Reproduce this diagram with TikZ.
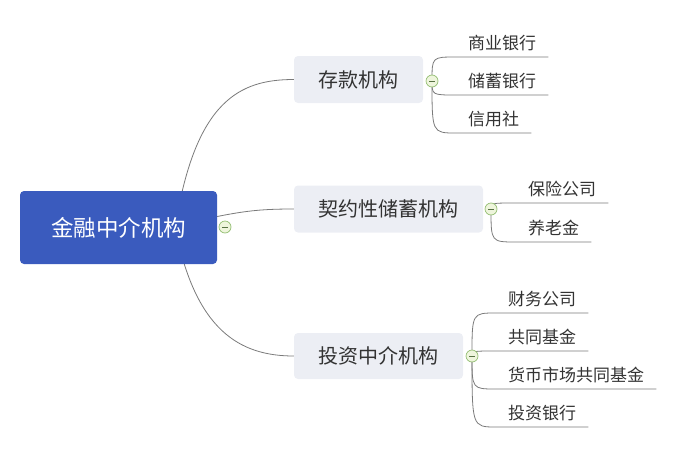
\documentclass[tikz,border=0pt]{standalone}
\usepackage{fontspec}
\setmainfont{Noto Sans CJK SC}
\pgfdeclarelayer{bg}
\pgfsetlayers{bg,main}
\definecolor{rootblue}{HTML}{3A5BBE}
\definecolor{boxgrey}{HTML}{ECEEF4}
\definecolor{linegrey}{HTML}{7A7A7A}
\definecolor{textgrey}{HTML}{333333}
\definecolor{toggfill}{HTML}{EEF5DC}
\definecolor{toggline}{HTML}{93BE72}
\begin{document}
\begin{tikzpicture}[x=1pt,y=-1pt,
    rootbox/.style={rectangle,rounded corners=4pt,fill=rootblue,text=white,
      minimum width=197pt,minimum height=73pt,font=\fontsize{22.5}{26}\selectfont},
    midbox/.style={rectangle,rounded corners=4pt,fill=boxgrey,text=textgrey,
      minimum height=47pt,font=\fontsize{20}{24}\selectfont},
    leaf/.style={anchor=south west,inner xsep=12pt,inner ysep=0pt,text height=14pt,
      text depth=7.5pt,text=textgrey,font=\fontsize{17}{20}\selectfont},
    branch/.style={draw=linegrey,line width=0.8pt},
    toggle/.style={circle,draw=toggline,fill=toggfill,line width=0.7pt,
      minimum size=12pt,inner sep=0pt}]
    \useasboundingbox (0,0) rectangle (682,458);

    % main topics
    \node[rootbox] (root) at (118.5,227.5) {金融中介机构};
    \node[midbox,minimum width=129pt] (deposit) at (358.5,79.5) {存款机构};
    \node[midbox,minimum width=189pt] (contract) at (388.5,209) {契约性储蓄机构};
    \node[midbox,minimum width=169pt,minimum height=46pt] (invest) at (378.5,356) {投资中介机构};

    \coordinate (k0) at (225,227);
    \coordinate (k1) at (432,81);
    \coordinate (k2) at (491,209);
    \coordinate (k3) at (472,356);

    % leaves
    \node[leaf] (bank) at (456,57) {商业银行};
    \node[leaf] (savebank) at (456,95) {储蓄银行};
    \node[leaf] (credit) at (456,133) {信用社};

    \node[leaf] (insure) at (516,203) {保险公司};
    \node[leaf] (pension) at (516,242) {养老金};

    \node[leaf] (finance) at (496,313) {财务公司};
    \node[leaf] (mutual) at (496,351) {共同基金};
    \node[leaf] (money) at (496,389) {货币市场共同基金};
    \node[leaf] (ibank) at (496,427) {投资银行};

    \begin{pgfonlayer}{bg}
      \draw[branch] ([xshift=-42pt]root.east) .. controls +(20,-127) and +(-54,0) .. (deposit.west);
      \draw[branch] ([yshift=11pt]root.east) .. controls +(30,-6) and +(-30,0) .. (contract.west);
      \draw[branch] ([xshift=-42pt]root.east) .. controls +(20,103) and +(-54,0) .. (invest.west);

      \foreach \k/\l in {k1/bank,k1/savebank,k1/credit,k2/insure,k2/pension,
                         k3/finance,k3/mutual,k3/money,k3/ibank}
        \draw[branch] (\k) .. controls (\k |- \l.south west) .. (\l.south west) -- (\l.south east);
    \end{pgfonlayer}

    % collapse marks
    \foreach \k in {k0,k1,k2,k3}{
      \node[toggle] (t\k) at (\k) {};
      \draw[toggline!60!black,line width=0.7pt] ([xshift=-3pt]t\k.center) -- ([xshift=3pt]t\k.center);
    }
  \end{tikzpicture}
\end{document}
